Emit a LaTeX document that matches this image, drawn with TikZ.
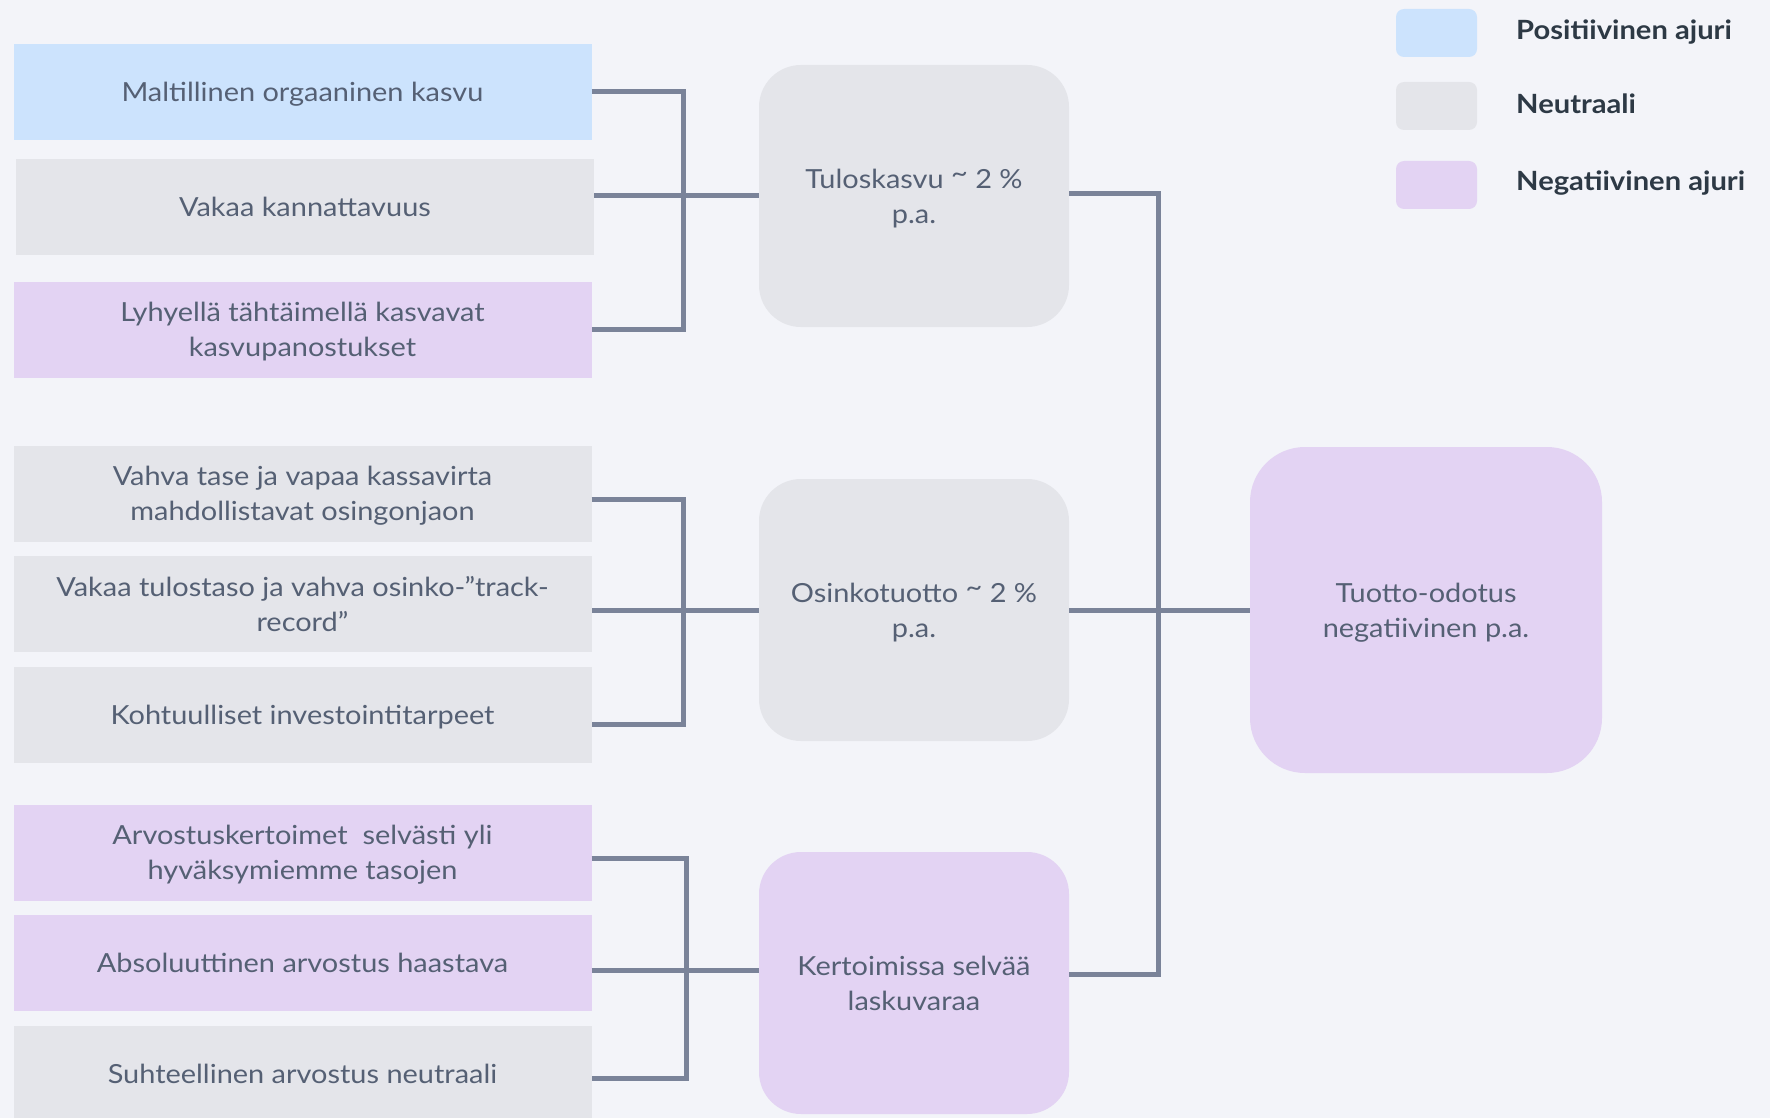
\documentclass[tikz,border=0pt]{standalone}
\usepackage{fontspec}
\setmainfont{Lato}[FakeStretch=1.1]
\usetikzlibrary{calc}
\definecolor{bg}{HTML}{F3F4F9}
\definecolor{cblue}{HTML}{CCE3FD}
\definecolor{cgray}{HTML}{E4E5EA}
\definecolor{cpurp}{HTML}{E3D3F3}
\definecolor{linec}{HTML}{7A8399}
\definecolor{txt}{HTML}{556074}
\definecolor{legtxt}{HTML}{2D3945}
\tikzset{
  lbox/.style={rectangle, minimum width=578pt, minimum height=96pt, inner sep=0pt, align=center, text=txt, text depth=0pt, font=\fontsize{26.3}{35}\selectfont},
  mbox/.style={rectangle, rounded corners=42pt, minimum width=310pt, minimum height=262pt, inner sep=0pt, align=center, text=txt, text depth=0pt, font=\fontsize{26.3}{35}\selectfont},
  legsq/.style={rectangle, rounded corners=8pt, minimum width=81pt, minimum height=48pt, inner sep=0pt},
  legtext/.style={anchor=west, inner sep=0pt, text=legtxt, font=\bfseries\fontsize{26.5}{32}\selectfont},
  conn/.style={draw=linec, line width=5pt}
}
\begin{document}
\begin{tikzpicture}[x=1pt, y=-1pt]
\fill[bg] (0,0) rectangle (1770,1118);
\useasboundingbox (0,0) rectangle (1770,1118);
% legend
\node[legsq, fill=cblue] (lq1) at (1436.5,33) {};
\node[legsq, fill=cgray] (lq2) at (1436.5,106) {};
\node[legsq, fill=cpurp] (lq3) at (1436.5,185) {};
\node[legtext] (lt1) at (1516,32) {Positiivinen ajuri};
\node[legtext] (lt2) at (1516,104) {Neutraali};
\node[legtext] (lt3) at (1516,183) {Negatiivinen ajuri};
% left boxes
\node[lbox, fill=cblue] (b1) at (302.5,92) {Maltillinen orgaaninen kasvu};
\node[lbox, fill=cgray] (b2) at (305,207) {Vakaa kannattavuus};
\node[lbox, fill=cpurp] (b3) at (302.5,329.5) {Lyhyellä tähtäimellä kasvavat\\kasvupanostukset};
\node[lbox, fill=cgray] (b4) at (302.5,493.5) {Vahva tase ja vapaa kassavirta\\mahdollistavat osingonjaon};
\node[lbox, fill=cgray] (b5) at (302.5,603.5) {Vakaa tulostaso ja vahva osinko-”track-\\record”};
\node[lbox, fill=cgray] (b6) at (302.5,714.5) {Kohtuulliset investointitarpeet};
\node[lbox, fill=cpurp] (b7) at (302.5,852.5) {Arvostuskertoimet\ \ selvästi yli\\hyväksymiemme tasojen};
\node[lbox, fill=cpurp] (b8) at (302.5,963) {Absoluuttinen arvostus haastava};
\node[lbox, fill=cgray] (b9) at (302.5,1074) {Suhteellinen arvostus neutraali};
% middle boxes
\node[mbox, fill=cgray] (tulos) at (914,196) {Tuloskasvu \raisebox{0.45ex}{\textasciitilde} 2 \%\\p.a.};
\node[mbox, fill=cgray] (osinko) at (914,610) {Osinkotuotto \raisebox{0.45ex}{\textasciitilde} 2 \%\\p.a.};
\node[mbox, fill=cpurp] (kert) at (914,983) {Kertoimissa selvää\\laskuvaraa};
% result
\node[mbox, fill=cpurp, rounded corners=55pt, minimum width=352pt, minimum height=326pt] (tuotto) at (1426,610) {Tuotto-odotus\\negatiivinen p.a.};
% connectors
\coordinate (v1) at (683,0);
\coordinate (v3) at (686,0);
\coordinate (vr) at (1158,0);
\draw[conn] (b1.east) -- (b1.east -| v1) -- (b3.east -| v1) -- (b3.east);
\draw[conn] (tulos.west) -- (tulos.west -| b2.east);
\draw[conn] ([yshift=-5.5pt]b4.east) -- ([yshift=-5.5pt]b4.east -| v1) -- ([yshift=-9.5pt]b6.east -| v1) -- ([yshift=-9.5pt]b6.east);
\draw[conn] (osinko.west) -- (osinko.west -| b5.east);
\draw[conn] ([yshift=-5.5pt]b7.east) -- ([yshift=-5.5pt]b7.east -| v3) -- ([yshift=-4pt]b9.east -| v3) -- ([yshift=-4pt]b9.east);
\draw[conn] ([yshift=-7pt]b8.east) -- ([yshift=-7pt]b8.east -| kert.west);
\draw[conn] ([yshift=2pt]tulos.east) -- ([yshift=2pt]tulos.east -| vr) -- ([yshift=9pt]kert.east -| vr) -- ([yshift=9pt]kert.east);
\draw[conn] (osinko.east) -- (tuotto.west);
\end{tikzpicture}
\end{document}
